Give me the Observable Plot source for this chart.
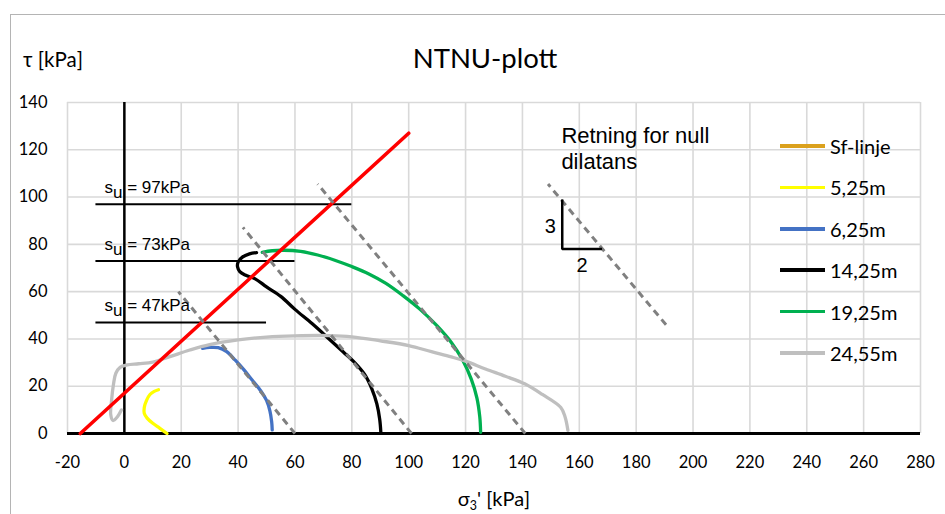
<!DOCTYPE html>
<html lang="no">
<head>
<meta charset="utf-8">
<title>NTNU-plott</title>
<script src="https://cdn.jsdelivr.net/npm/d3@7"></script>
<script src="https://cdn.jsdelivr.net/npm/@observablehq/plot@0.6"></script>
<style>
  html, body { margin: 0; padding: 0; background: #fff; }
  #chart { position: relative; width: 945px; height: 514px; overflow: hidden; font-family: Lato, "Open Sans", sans-serif; color: #000; }
  #chart > svg { position: absolute; left: 0; top: 0; }
  .frame { position: absolute; left: 10px; top: 14px; right: -10px; bottom: -10px; border-left: 1px solid #b4b4b4; border-top: 1px solid #b4b4b4; }
  .title { position: absolute; top: 58px; left: 485px; transform: translate(-50%, -50%); font-size: 27.5px; line-height: 1; white-space: nowrap; }
  .ylab { position: absolute; left: 23px; top: 59px; transform: translateY(-50%); font-size: 20.5px; line-height: 1; white-space: nowrap; }
  .xlab { position: absolute; left: 494px; top: 498px; transform: translate(-50%, -50%); font-size: 20px; line-height: 1; white-space: nowrap; }
  .xlab sub { font-size: 0.62em; vertical-align: -0.3em; line-height: 0; }
  .legend-item { position: absolute; left: 780px; display: flex; align-items: center; transform: translateY(-50%); font-size: 20px; line-height: 1; white-space: nowrap; }
  .legend-item .swatch { width: 45px; height: 3.5px; margin-right: 5px; }
</style>
</head>
<body>
<div id="chart">
  <div class="frame"></div>
  <div class="title">NTNU-plott</div>
  <div class="ylab">τ [kPa]</div>
  <div class="xlab">σ<sub>3</sub>' [kPa]</div>
</div>
<script>
// Axis ticks
const xTicks = [-20, 0, 20, 40, 60, 80, 100, 120, 140, 160, 180, 200, 220, 240, 260, 280];
const yTicks = [0, 20, 40, 60, 80, 100, 120, 140];

// Legend entries, in order, with their colours
const seriesNames = ["Sf-linje", "5,25m", "6,25m", "14,25m", "19,25m", "24,55m"];
const seriesColors = ["#dba11d", "#ffff00", "#4472c4", "#000000", "#00b050", "#bfbfbf"];

// Stress paths as [σ3', τ] in kPa
const path525 = [[12, 18.5], [10.5, 17.8], [9, 16.5], [7.8, 14], [7, 11], [7, 8.5], [8, 6.5], [10, 4.3], [12.5, 2.2], [15, 0]];
const path625 = [[27.5, 36], [30, 36.4], [33, 36.3], [36, 34.6], [39, 31], [42, 27], [45, 22.5], [48, 18], [50, 14], [51.2, 9.5], [51.8, 5], [52, 1.5]];
const path1425 = [[46.5, 76.5], [44, 76], [41.5, 74.6], [40, 72.5], [39.8, 70.5], [40.6, 68.5], [42.5, 67], [46, 65.4], [50, 62], [55, 58], [60, 52.5], [66, 46.5], [72, 40], [77, 34.5], [81, 30], [84.5, 25], [87, 19], [88.8, 12.5], [89.8, 6], [90.2, 0.5]];
const path1925 = [[48.5, 76.6], [52, 77.3], [56, 77.5], [62, 77], [68, 75.5], [74, 73.3], [80, 70.6], [86, 67.5], [92, 63.5], [98, 58.3], [104, 52.5], [110, 45.5], [115, 38.5], [119, 31], [122, 23], [124, 15], [125, 7], [125.3, 0.5]];
const path2455 = [[-1, 10], [-2.5, 7], [-4, 5.5], [-4.8, 8], [-4.5, 14], [-3.8, 21], [-3, 25.5], [-1.5, 28], [1, 29], [5, 29.5], [10, 30.2], [16, 32.5], [23, 35.3], [30, 37.6], [40, 39.6], [50, 40.8], [60, 41.3], [72, 41.4], [80, 40.9], [90, 39.2], [100, 37.2], [108, 34.6], [115, 32.4], [120, 30.6], [127, 27.3], [134, 24.2], [140.8, 21], [147, 16.5], [153.5, 11], [155, 7], [156, 1.3]];

// Failure envelope
const failureLine = [[-15.5, 0], [100, 127]];

// Undrained shear strength levels and the end of each marker line
const suValues = [97, 73, 47];
const suLineStart = -10;
const suLineEnd = [80, 60, 50];
const suLabelX = -7;

// Directions of zero dilatancy (3 up : 2 across)
const nullDilatancy = [
  {x1: 60, y1: 0, x2: 19, y2: 60},
  {x1: 101, y1: 0, x2: 41.7, y2: 87.2},
  {x1: 141, y1: 0, x2: 68, y2: 105.5},
  {x1: 190.5, y1: 46, x2: 149, y2: 105.5}
];
const slopeTriangle = [[154, 99], [154, 78], [168, 78]];
const slopeLabels = [{x: 149.8, y: 87.7, text: "3"}, {x: 161, y: 71, text: "2"}];
const note = [{x: 153.7, y: 121, text: "Retning for null\ndilatans"}];

const paths = [path525, path625, path1425, path1925, path2455];
const arial = "'Liberation Sans', Arial, sans-serif";

const svg = Plot.plot({
  width: 945,
  height: 514,
  marginLeft: 67,
  marginRight: 25,
  marginTop: 102,
  marginBottom: 81,
  style: {fontFamily: "Lato, 'Open Sans', sans-serif", fontSize: "16.5px", color: "#000", background: "none", overflow: "visible"},
  x: {domain: [-20, 280], ticks: xTicks, tickSize: 0, tickPadding: 23, tickFormat: d => String(d), label: null},
  y: {domain: [0, 140], ticks: yTicks, tickSize: 0, tickPadding: 20, tickFormat: d => String(d), label: null},
  marks: [
    Plot.ruleX(xTicks, {stroke: "#d9d9d9", strokeWidth: 1.6}),
    Plot.ruleY(yTicks, {stroke: "#d9d9d9", strokeWidth: 1.6}),
    Plot.ruleX([0], {y1: 0, y2: 140, stroke: "#000", strokeWidth: 2.5}),
    Plot.ruleY([0], {stroke: "#000", strokeWidth: 3}),
    ...paths.map((pts, i) => Plot.line(pts, {x: d => d[0], y: d => d[1], stroke: seriesColors[i + 1], strokeWidth: 3.3, curve: "catmull-rom"})),
    Plot.ruleY(suValues, {x1: suLineStart, x2: (d, i) => suLineEnd[i], stroke: "#000", strokeWidth: 2}),
    Plot.line(failureLine, {x: d => d[0], y: d => d[1], stroke: "#ff0000", strokeWidth: 3.6}),
    Plot.link(nullDilatancy, {x1: "x1", y1: "y1", x2: "x2", y2: "y2", stroke: "#808080", strokeWidth: 3, strokeDasharray: "7 5", strokeLinecap: "butt"}),
    Plot.line(slopeTriangle, {x: d => d[0], y: d => d[1], stroke: "#000", strokeWidth: 2.5, strokeLinejoin: "miter", strokeLinecap: "butt"}),
    Plot.text(suValues, {x: () => suLabelX, y: d => d, text: d => `s_u = ${d}kPa`, textAnchor: "start", lineAnchor: "bottom", dy: -11, fontFamily: arial, fontSize: 17}),
    Plot.text(slopeLabels, {x: "x", y: "y", text: "text", fontFamily: arial, fontSize: 20}),
    Plot.text(note, {x: "x", y: "y", text: "text", textAnchor: "start", lineAnchor: "middle", lineHeight: 1.2, fontFamily: arial, fontSize: 22})
  ]
});

// Subscript for the s_u labels
d3.select(svg).selectAll("text").each(function () {
  const t = this.textContent;
  if (t.startsWith("s_u")) {
    const sel = d3.select(this);
    sel.text(null);
    sel.append("tspan").text("s");
    sel.append("tspan").attr("dy", 5).text("u");
    sel.append("tspan").attr("dy", -5).text(t.slice(3));
  }
});

const chart = document.getElementById("chart");
chart.insertBefore(svg, chart.firstChild);

// Legend
const legendTop = 146, legendStep = 41.4;
seriesNames.forEach((name, i) => {
  const item = document.createElement("div");
  item.className = "legend-item";
  item.style.top = (legendTop + i * legendStep) + "px";
  const sw = document.createElement("span");
  sw.className = "swatch";
  sw.style.background = seriesColors[i];
  const label = document.createElement("span");
  label.textContent = name;
  item.append(sw, label);
  chart.appendChild(item);
});
</script>
</body>
</html>
